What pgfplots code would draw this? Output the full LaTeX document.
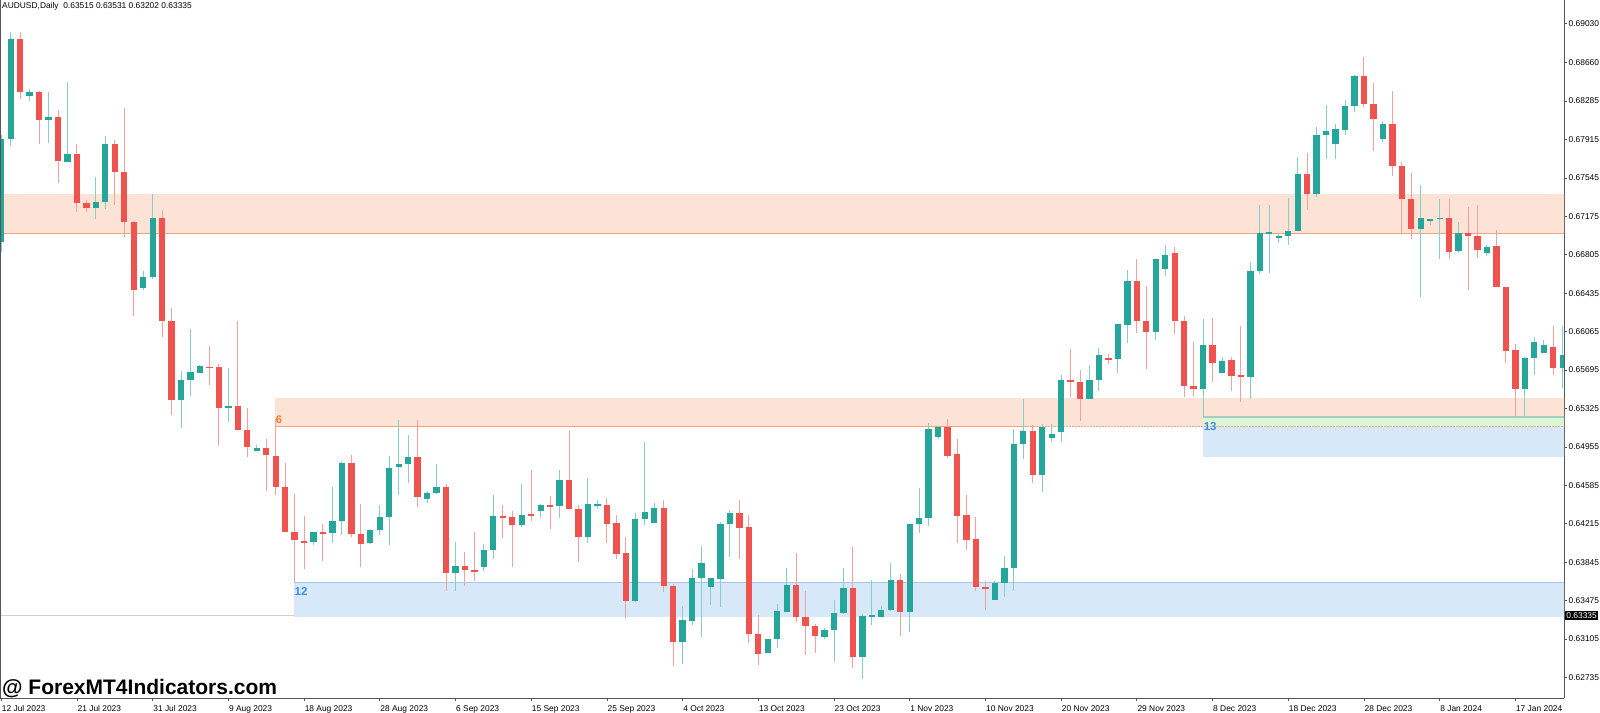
\documentclass[border=0pt]{standalone}
\usepackage{fontspec}
\setmainfont{Liberation Sans}
\usepackage{pgfplots}
\pgfplotsset{compat=1.18}
\usepackage{pgfplotstable}

\definecolor{bull}{HTML}{26A69A}
\definecolor{bullw}{HTML}{86CFC7}
\definecolor{bear}{HTML}{EF5350}
\definecolor{bearw}{HTML}{F5A09E}
\definecolor{ozone}{HTML}{FCE3D6}
\definecolor{oline}{HTML}{F2A47E}
\definecolor{olabel}{HTML}{F27A2C}
\definecolor{bzone}{HTML}{D7E8F8}
\definecolor{bline}{HTML}{A2C6EC}
\definecolor{blabel}{HTML}{3A8EE6}
\definecolor{gzone}{HTML}{DCF5D2}
\definecolor{gline}{HTML}{A3CFC6}
\definecolor{axc}{HTML}{555555}

\pgfplotstableread{
i O H L C
0 0.66931 0.67958 0.66832 0.67920
1 0.67920 0.68947 0.67852 0.68883
3 0.68331 0.68398 0.68289 0.68372
5 0.68100 0.68372 0.67884 0.68132
7 0.67701 0.68469 0.67701 0.67778
10 0.67253 0.67557 0.67147 0.67316
11 0.67313 0.67949 0.67249 0.67872
15 0.66488 0.66652 0.66466 0.66591
16 0.66591 0.67393 0.66575 0.67159
19 0.65407 0.65686 0.65134 0.65602
20 0.65602 0.66090 0.65448 0.65676
21 0.65670 0.65744 0.65664 0.65734
24 0.65327 0.65712 0.65198 0.65346
27 0.64919 0.64974 0.64919 0.64945
33 0.64037 0.64139 0.64014 0.64139
35 0.64123 0.64572 0.64027 0.64242
36 0.64242 0.64822 0.64104 0.64800
39 0.64027 0.64165 0.64020 0.64155
40 0.64155 0.64393 0.64104 0.64277
41 0.64277 0.64868 0.64008 0.64752
42 0.64759 0.65214 0.64489 0.64788
43 0.64788 0.65070 0.64611 0.64858
45 0.64454 0.64531 0.64418 0.64511
46 0.64511 0.64797 0.64502 0.64569
48 0.63738 0.64040 0.63568 0.63806
51 0.63799 0.64020 0.63763 0.63960
52 0.63960 0.64492 0.63873 0.64293
55 0.64206 0.64595 0.64187 0.64302
57 0.64341 0.64408 0.64274 0.64393
59 0.64386 0.64733 0.64274 0.64637
62 0.64088 0.64653 0.64027 0.64406
63 0.64389 0.64444 0.64355 0.64406
67 0.63474 0.64316 0.63462 0.64261
68 0.64258 0.65002 0.64203 0.64331
69 0.64220 0.64412 0.64220 0.64367
72 0.63077 0.63423 0.62862 0.63286
73 0.63282 0.63777 0.63238 0.63690
74 0.63690 0.64001 0.63122 0.63840
75 0.63606 0.63690 0.63430 0.63690
76 0.63686 0.64232 0.63417 0.64213
77 0.64210 0.64348 0.63898 0.64316
81 0.62968 0.63106 0.62968 0.63106
82 0.63106 0.63443 0.63019 0.63372
83 0.63366 0.63789 0.63366 0.63626
87 0.63125 0.63212 0.63103 0.63199
88 0.63195 0.63484 0.62881 0.63356
89 0.63356 0.63786 0.63346 0.63597
91 0.62935 0.63346 0.62718 0.63330
92 0.63324 0.63674 0.63241 0.63337
93 0.63318 0.63423 0.63318 0.63382
94 0.63382 0.63840 0.63375 0.63677
96 0.63363 0.64216 0.63176 0.64216
97 0.64216 0.64557 0.64123 0.64274
98 0.64274 0.65183 0.64194 0.65128
99 0.65051 0.65157 0.65028 0.65147
105 0.63484 0.63664 0.63484 0.63648
106 0.63642 0.63905 0.63513 0.63789
107 0.63789 0.65125 0.63568 0.64980
108 0.64980 0.65419 0.64836 0.65108
110 0.64688 0.65176 0.64518 0.65147
111 0.65044 0.65173 0.65000 0.65079
112 0.65099 0.65650 0.65000 0.65599
115 0.65419 0.65744 0.65419 0.65599
116 0.65599 0.65908 0.65496 0.65843
118 0.65802 0.66136 0.65664 0.66136
119 0.66132 0.66658 0.65959 0.66553
122 0.66062 0.66762 0.65985 0.66762
123 0.66665 0.66899 0.66601 0.66803
127 0.65510 0.66193 0.65246 0.65934
129 0.65664 0.65824 0.65664 0.65779
132 0.65631 0.66733 0.65414 0.66649
133 0.66649 0.67284 0.66617 0.67015
134 0.67012 0.67284 0.66627 0.67027
135 0.66973 0.67008 0.66921 0.66983
136 0.66983 0.67355 0.66899 0.67034
137 0.67034 0.67749 0.67034 0.67583
139 0.67393 0.68032 0.67364 0.67958
140 0.67958 0.68247 0.67727 0.68000
141 0.67875 0.68064 0.67727 0.68016
142 0.68009 0.68295 0.67958 0.68240
143 0.68240 0.68536 0.68177 0.68526
146 0.67923 0.68093 0.67891 0.68067
150 0.67056 0.67474 0.66399 0.67156
151 0.67130 0.67150 0.67089 0.67150
152 0.67152 0.67345 0.66767 0.67162
154 0.66841 0.67124 0.66819 0.67018
157 0.66819 0.66902 0.66793 0.66877
161 0.65516 0.65824 0.65253 0.65811
162 0.65811 0.66016 0.65648 0.65965
163 0.65862 0.65985 0.65862 0.65939
165 0.65715 0.66119 0.65522 0.65840
}\bulldata

\pgfplotstableread{
i O H L C
2 0.68883 0.68947 0.68302 0.68375
4 0.68372 0.68382 0.67875 0.68100
6 0.68132 0.68199 0.67496 0.67708
8 0.67778 0.67878 0.67217 0.67304
9 0.67304 0.67332 0.67220 0.67253
12 0.67872 0.67910 0.67284 0.67605
13 0.67605 0.68215 0.66979 0.67118
14 0.67118 0.67130 0.66218 0.66469
17 0.67159 0.67236 0.66016 0.66170
18 0.66170 0.66299 0.65262 0.65407
22 0.65727 0.65927 0.65551 0.65715
23 0.65722 0.65756 0.64964 0.65333
25 0.65346 0.66167 0.65118 0.65118
26 0.65118 0.65333 0.64855 0.64951
28 0.64942 0.65028 0.64534 0.64877
29 0.64874 0.65221 0.64492 0.64569
30 0.64569 0.64800 0.64133 0.64133
31 0.64133 0.64502 0.63652 0.64056
32 0.64052 0.64290 0.63783 0.64033
34 0.64139 0.64213 0.63860 0.64126
37 0.64807 0.64877 0.64091 0.64117
38 0.64120 0.64406 0.63796 0.64018
44 0.64861 0.65214 0.64380 0.64476
47 0.64572 0.64595 0.63571 0.63738
49 0.63806 0.63943 0.63619 0.63773
50 0.63773 0.64133 0.63664 0.63758
53 0.64293 0.64396 0.64078 0.64277
54 0.64277 0.64338 0.63796 0.64206
56 0.64309 0.64733 0.64245 0.64300
58 0.64393 0.64483 0.64162 0.64386
60 0.64637 0.65108 0.64355 0.64355
61 0.64355 0.64399 0.63850 0.64088
64 0.64399 0.64463 0.64033 0.64213
65 0.64220 0.64302 0.63873 0.63924
66 0.63931 0.64088 0.63311 0.63474
70 0.64367 0.64447 0.63561 0.63613
71 0.63613 0.63635 0.62849 0.63077
78 0.64316 0.64447 0.63873 0.64172
79 0.64181 0.64302 0.63064 0.63151
80 0.63151 0.63337 0.62855 0.62958
84 0.63626 0.63931 0.63272 0.63321
85 0.63321 0.63565 0.62952 0.63234
86 0.63234 0.63250 0.62968 0.63138
90 0.63597 0.63989 0.62829 0.62935
95 0.63671 0.63734 0.63138 0.63363
100 0.65147 0.65221 0.64846 0.64871
101 0.64884 0.65028 0.64033 0.64290
102 0.64297 0.64492 0.63963 0.64062
103 0.64069 0.64277 0.63571 0.63606
104 0.63606 0.63667 0.63382 0.63594
109 0.65108 0.65166 0.64605 0.64685
113 0.65599 0.65898 0.65439 0.65577
114 0.65577 0.65696 0.65208 0.65419
117 0.65811 0.65850 0.65756 0.65799
120 0.66553 0.66762 0.66049 0.66170
121 0.66170 0.66504 0.65708 0.66062
124 0.66819 0.66880 0.66045 0.66165
125 0.66165 0.66216 0.65439 0.65545
126 0.65545 0.65965 0.65445 0.65510
128 0.65939 0.66193 0.65577 0.65766
130 0.65789 0.65824 0.65496 0.65641
131 0.65645 0.66122 0.65385 0.65631
138 0.67583 0.67788 0.67239 0.67393
144 0.68526 0.68706 0.68225 0.68257
145 0.68257 0.68462 0.67807 0.68109
147 0.68061 0.68382 0.67566 0.67660
148 0.67660 0.67701 0.67018 0.67339
149 0.67345 0.67595 0.66960 0.67056
153 0.67162 0.67345 0.66764 0.66835
155 0.67018 0.67268 0.66466 0.66986
156 0.66986 0.67284 0.66771 0.66854
158 0.66890 0.67044 0.66498 0.66498
159 0.66498 0.66498 0.65760 0.65882
160 0.65888 0.65946 0.65240 0.65516
164 0.65917 0.66119 0.65648 0.65715
}\beardata

\newcommand{\tf}{\fontsize{8.4}{10}\selectfont}

\begin{document}
\begin{tikzpicture}
\useasboundingbox (0pt,0pt) rectangle (1600pt,-712pt);
\begin{axis}[
  at={(0pt,0pt)}, anchor=north west,
  width=1564pt, height=698pt, scale only axis,
  xmin=-0.131, xmax=165.14,
  ymin=0.625376, ymax=0.692582,
  axis x line*=bottom, axis y line*=right,
  axis line style={axc, line width=0.9pt},
  tick style={axc, line width=0.7pt},
  tick align=outside, major tick length=3pt,
  xtick={0,8,...,160},
  xticklabels={12 Jul 2023,21 Jul 2023,31 Jul 2023,9 Aug 2023,18 Aug 2023,28 Aug 2023,6 Sep 2023,15 Sep 2023,25 Sep 2023,4 Oct 2023,13 Oct 2023,23 Oct 2023,1 Nov 2023,10 Nov 2023,20 Nov 2023,29 Nov 2023,8 Dec 2023,18 Dec 2023,28 Dec 2023,8 Jan 2024,17 Jan 2024},
  xticklabel style={font=\tf, anchor=north west, inner sep=0pt, xshift=0.5pt, yshift=-4.5pt},
  ytick={0.69030,0.68660,0.68285,0.67915,0.67545,0.67175,0.66805,0.66435,0.66065,0.65695,0.65325,0.64955,0.64585,0.64215,0.63845,0.63475,0.63105,0.62735},
  yticklabels={0.69030,0.68660,0.68285,0.67915,0.67545,0.67175,0.66805,0.66435,0.66065,0.65695,0.65325,0.64955,0.64585,0.64215,0.63845,0.63475,0.63105,0.62735},
  yticklabel style={font=\tf, anchor=west, inner sep=0pt, xshift=1.5pt},
  clip=true,
]
% bid line
\addplot[black!18, line width=0.7pt, forget plot] coordinates {(-1,0.63335) (170,0.63335)};
% upper supply zone
\addplot[fill=ozone, draw=none, forget plot] coordinates {(-1,0.67390) (170,0.67390) (170,0.67012) (-1,0.67012)} -- cycle;
\addplot[oline, line width=1pt, forget plot] coordinates {(-1,0.67012) (170,0.67012)};
% lower supply zone (6)
\addplot[fill=ozone, draw=none, forget plot] coordinates {(28.96,0.65423) (170,0.65423) (170,0.65157) (28.96,0.65157)} -- cycle;
% demand zone 12
\addplot[fill=bzone, draw=none, forget plot] coordinates {(30.94,0.63648) (170,0.63648) (170,0.63321) (30.94,0.63321)} -- cycle;
\addplot[bline, line width=1.2pt, forget plot] coordinates {(30.94,0.63648) (170,0.63648)};
% zone 13
\addplot[fill=gzone, draw=none, forget plot] coordinates {(127.0,0.65243) (170,0.65243) (170,0.65152) (127.0,0.65152)} -- cycle;
\addplot[fill=bzone, draw=none, forget plot] coordinates {(127.0,0.65152) (170,0.65152) (170,0.64861) (127.0,0.64861)} -- cycle;
\addplot[gline, line width=1.2pt, forget plot] coordinates {(127.0,0.65243) (170,0.65243)};
\addplot[oline, line width=1pt, forget plot] coordinates {(28.96,0.65155) (108.4,0.65155)};
\addplot[oline, line width=1pt, dash pattern=on 1.5pt off 1.5pt, forget plot] coordinates {(108.4,0.65155) (170,0.65155)};
% labels
\node[anchor=base west, inner sep=0pt, text=olabel, font=\bfseries\fontsize{11}{11}\selectfont] at (axis cs:28.96,0.65157) [yshift=2.6pt, xshift=0.5pt] {6};
\node[anchor=base west, inner sep=0pt, text=blabel, font=\bfseries\fontsize{11.5}{11.5}\selectfont] at (axis cs:30.94,0.63648) [yshift=-12.8pt, xshift=0.5pt] {12};
\node[anchor=base west, inner sep=0pt, text=blabel, font=\bfseries\fontsize{11.5}{11.5}\selectfont] at (axis cs:127.0,0.65152) [yshift=-3.6pt, xshift=0.5pt] {13};
% wicks
\addplot[draw=none, mark=none, forget plot, error bars/.cd, y dir=both, y explicit, error mark=none,
  error bar style={draw=bullw, line width=1pt, solid}]
  table[x=i, y expr={(\thisrow{H}+\thisrow{L})/2}, y error expr={(\thisrow{H}-\thisrow{L})/2}] {\bulldata};
\addplot[draw=none, mark=none, forget plot, error bars/.cd, y dir=both, y explicit, error mark=none,
  error bar style={draw=bearw, line width=1pt, solid}]
  table[x=i, y expr={(\thisrow{H}+\thisrow{L})/2}, y error expr={(\thisrow{H}-\thisrow{L})/2}] {\beardata};
% bodies
\addplot[draw=none, mark=none, forget plot, error bars/.cd, y dir=both, y explicit, error mark=none,
  error bar style={draw=bull, line width=6.3pt, solid}]
  table[x=i, y expr={(\thisrow{O}+\thisrow{C})/2}, y error expr={max(abs(\thisrow{C}-\thisrow{O})/2,0.00006)}] {\bulldata};
\addplot[draw=none, mark=none, forget plot, error bars/.cd, y dir=both, y explicit, error mark=none,
  error bar style={draw=bear, line width=6.3pt, solid}]
  table[x=i, y expr={(\thisrow{O}+\thisrow{C})/2}, y error expr={max(abs(\thisrow{C}-\thisrow{O})/2,0.00006)}] {\beardata};
% left border
\draw[axc, line width=1.6pt] (rel axis cs:0,0) -- (rel axis cs:0,1);
\end{axis}
\node[anchor=base west, inner sep=0pt, font=\tf] at (2pt,-8.5pt) {AUDUSD,Daily\ \ 0.63515 0.63531 0.63202 0.63335};
\node[anchor=base west, inner sep=0pt, font=\bfseries\fontsize{21}{21}\selectfont] at (2pt,-694pt) {@ ForexMT4Indicators.com};
\node[anchor=west, fill=black, text=white, inner sep=1.2pt, font=\tf] at (1565pt,-615.5pt) {0.63335};
\end{tikzpicture}
\end{document}
